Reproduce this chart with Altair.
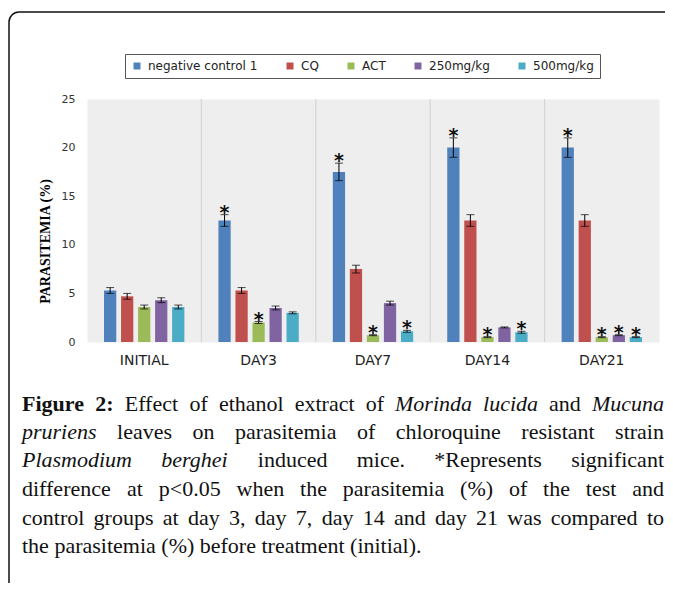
import altair as alt
import pandas as pd

# ---------------- data ----------------
categories = ["INITIAL", "DAY3", "DAY7", "DAY14", "DAY21"]
series = ["negative control 1", "CQ", "ACT", "250mg/kg", "500mg/kg"]
colors = ["#4F81BD", "#C0504D", "#9BBB59", "#8064A2", "#4BACC6"]

neg_control = [5.3, 12.5, 17.5, 20.0, 20.0]
cq = [4.7, 5.3, 7.5, 12.5, 12.5]
act = [3.6, 2.0, 0.7, 0.5, 0.5]
mg250 = [4.3, 3.5, 4.0, 1.5, 0.7]
mg500 = [3.6, 3.0, 1.1, 1.0, 0.5]

neg_err = [0.3, 0.6, 0.9, 1.0, 1.0]
cq_err = [0.3, 0.3, 0.4, 0.6, 0.6]
act_err = [0.2, 0.1, 0.05, 0.05, 0.05]
mg250_err = [0.25, 0.2, 0.2, 0.05, 0.05]
mg500_err = [0.2, 0.1, 0.1, 0.1, 0.05]

neg_sig = [0, 1, 1, 1, 1]
cq_sig = [0, 0, 0, 0, 0]
act_sig = [0, 1, 1, 1, 1]
mg250_sig = [0, 0, 0, 0, 1]
mg500_sig = [0, 0, 1, 1, 1]

y_ticks = [0, 5, 10, 15, 20, 25]
y_title = "PARASITEMIA (%)"

caption_lines = [
    [("Figure", "b"), ("2:", "b"), ("Effect", "n"), ("of", "n"), ("ethanol", "n"), ("extract", "n"),
     ("of", "n"), ("Morinda", "i"), ("lucida", "i"), ("and", "n"), ("Mucuna", "i")],
    [("pruriens", "i"), ("leaves", "n"), ("on", "n"), ("parasitemia", "n"), ("of", "n"),
     ("chloroquine", "n"), ("resistant", "n"), ("strain", "n")],
    [("Plasmodium", "i"), ("berghei", "i"), ("induced", "n"), ("mice.", "n"), ("*Represents", "n"),
     ("significant", "n")],
    [("difference", "n"), ("at", "n"), ("p<0.05", "n"), ("when", "n"), ("the", "n"), ("parasitemia", "n"),
     ("(%)", "n"), ("of", "n"), ("the", "n"), ("test", "n"), ("and", "n")],
    [(w, "n") for w in "control groups at day 3, day 7, day 14 and day 21 was compared to".split()],
    [(w, "n") for w in "the parasitemia (%) before treatment (initial).".split()],
]
justified = [True, True, True, True, True, False]

# ---------------- table ----------------
vals = [neg_control, cq, act, mg250, mg500]
errs = [neg_err, cq_err, act_err, mg250_err, mg500_err]
sigs = [neg_sig, cq_sig, act_sig, mg250_sig, mg500_sig]
rows = []
for s, v, e, g in zip(series, vals, errs, sigs):
    for c, vv, ee, gg in zip(categories, v, e, g):
        rows.append({"cat": c, "series": s, "value": vv, "lo": vv - ee, "hi": vv + ee,
                     "star": "*" if gg else ""})
df = pd.DataFrame(rows)

# ---------------- caption layout (text justification) ----------------
roman = dict(zip(" !()*,./0123456789:<%", [250, 333, 333, 333, 500, 250, 250, 278] + [500] * 10 + [278, 564, 833]))
roman.update(dict(zip("ABCDEFGHIJKLMNOPQRSTUVWXYZ",
                      [722, 667, 667, 722, 611, 556, 722, 722, 333, 389, 722, 611, 889, 722, 722, 556, 722, 667,
                       556, 611, 722, 722, 944, 722, 722, 611])))
roman.update(dict(zip("abcdefghijklmnopqrstuvwxyz",
                      [444, 500, 444, 500, 444, 333, 500, 500, 278, 278, 500, 278, 778, 500, 500, 500, 500, 333,
                       389, 278, 500, 500, 722, 500, 500, 444])))
italic = dict(roman)
italic.update(dict(zip("abcdefghijklmnopqrstuvwxyz",
                       [500, 500, 444, 500, 444, 278, 500, 500, 278, 278, 444, 278, 722, 500, 500, 500, 500, 389,
                        389, 278, 500, 444, 667, 444, 444, 389])))
italic.update({"M": 833, "P": 611})
bold = dict(roman)
bold.update({"F": 611, "i": 278, "g": 500, "u": 556, "r": 444, "e": 444, "2": 500, ":": 333})
metrics = {"n": roman, "i": italic, "b": bold}

FS = 22
LEFT, RIGHT = 22 - 87, 664 - 87
baselines = [411 - 99, 439 - 99, 467 - 99, 496 - 99, 525 - 99, 553 - 99]
cap_rows = []
for words, just, yb in zip(caption_lines, justified, baselines):
    widths = [sum(metrics[st].get(ch, 500) for ch in w) / 1000 * FS for w, st in words]
    if just and len(words) > 1:
        gap = (RIGHT - LEFT - sum(widths)) / (len(words) - 1)
    else:
        gap = 0.25 * FS
    x = LEFT
    n = len(words)
    for k, ((w, st), wd) in enumerate(zip(words, widths)):
        if just and k == n - 1:
            cap_rows.append({"t": w, "st": st, "px": RIGHT, "py": yb, "al": "r"})
        else:
            cap_rows.append({"t": w, "st": st, "px": x, "py": yb, "al": "l"})
        x += wd + gap
cap = pd.DataFrame(cap_rows)

# ---------------- chart ----------------
W, H = 572, 243
xscale = alt.Scale(domain=categories, paddingInner=0, paddingOuter=0)
oscale = alt.Scale(domain=series, paddingInner=0.28, paddingOuter=1.0)
yscale = alt.Scale(domain=[0, 25], nice=False)

X = alt.X("cat:N", scale=xscale, sort=categories,
          axis=alt.Axis(title=None, labelAngle=0, labelAlign="center", ticks=False,
                        domain=False, labelPadding=11, labelFont="DejaVu Sans", labelFontSize=14,
                        labelColor="#222"))
XO = alt.XOffset("series:N", scale=oscale, sort=series)

base = alt.Chart(df)

bars = base.mark_bar().encode(
    x=X, xOffset=XO,
    y=alt.Y("value:Q", scale=yscale,
            axis=alt.Axis(values=y_ticks, title=y_title, grid=False, ticks=False, domain=False,
                          labelPadding=12, labelFont="DejaVu Sans", labelFontSize=11, labelColor="#333",
                          titleFont="Liberation Serif", titleFontSize=14, titleFontWeight="bold",
                          titleColor="#000", titleX=-42, titleY=142, titleAngle=-90,
                          titleAlign="center", titleBaseline="middle")),
    color=alt.Color("series:N", scale=alt.Scale(domain=series, range=colors),
                    legend=alt.Legend(orient="none", legendX=38, legendY=-45, direction="horizontal",
                                      title=None, symbolType="square", symbolSize=49,
                                      symbolStrokeWidth=0, labelFont="DejaVu Sans", labelFontSize=12,
                                      labelColor="#222", columnPadding=26, padding=6,
                                      strokeColor="#555", fillColor="white", labelOffset=5)),
)

err_rule = base.mark_rule(color="black", strokeWidth=1).encode(
    x=X, xOffset=XO, y=alt.Y("lo:Q", scale=yscale), y2="hi:Q")
err_top = base.mark_tick(color="black", thickness=1, size=8).encode(
    x=X, xOffset=XO, y=alt.Y("hi:Q", scale=yscale))
err_bot = base.mark_tick(color="black", thickness=1, size=8).encode(
    x=X, xOffset=XO, y=alt.Y("lo:Q", scale=yscale))
stars = base.mark_text(font="DejaVu Sans", fontSize=19, fontWeight="bold", color="#111",
                       baseline="alphabetic", dy=4).encode(
    x=X, xOffset=XO, y=alt.Y("hi:Q", scale=yscale), text="star:N")

# group separators: at the left edge of each band after the first
seps = alt.Chart(pd.DataFrame({"cat": categories[1:]})).mark_rule(
    color="#D0D0D0", strokeWidth=1, xOffset=-W / len(categories) / 2).encode(
    x=X, y=alt.value(0), y2=alt.value(H))

frame = alt.Chart(pd.DataFrame({"k": [1]})).mark_rect(
    fill="transparent", stroke="#111", strokeWidth=1.5, cornerRadius=10).encode(
    x=alt.value(9 - 87), x2=alt.value(720), y=alt.value(12 - 99), y2=alt.value(620))


def cap_layer(style, al, **kw):
    return alt.Chart(cap).transform_filter(
        (alt.datum.st == style) & (alt.datum.al == al)).mark_text(
        font="Liberation Serif", fontSize=FS, align="left" if al == "l" else "right",
        baseline="alphabetic", color="#111", **kw).encode(
        x=alt.X("px:Q", scale=None, axis=None), y=alt.Y("py:Q", scale=None, axis=None), text="t:N")


cap_layers = []
for st, kw in [("n", {}), ("b", {"fontWeight": "bold"}), ("i", {"fontStyle": "italic"})]:
    for al in ["l", "r"]:
        cap_layers.append(cap_layer(st, al, **kw))

chart = alt.layer(frame, seps, bars, err_rule, err_top, err_bot, stars, *cap_layers).properties(
    width=W, height=H,
    autosize=alt.AutoSizeParams(type="none"),
    padding={"left": 79, "top": 91, "right": 6, "bottom": 241},
    background="white",
).configure_view(fill="#EEEEEE", stroke="transparent")

chart.save("out.html", embed_options={"renderer": "svg", "actions": False})
